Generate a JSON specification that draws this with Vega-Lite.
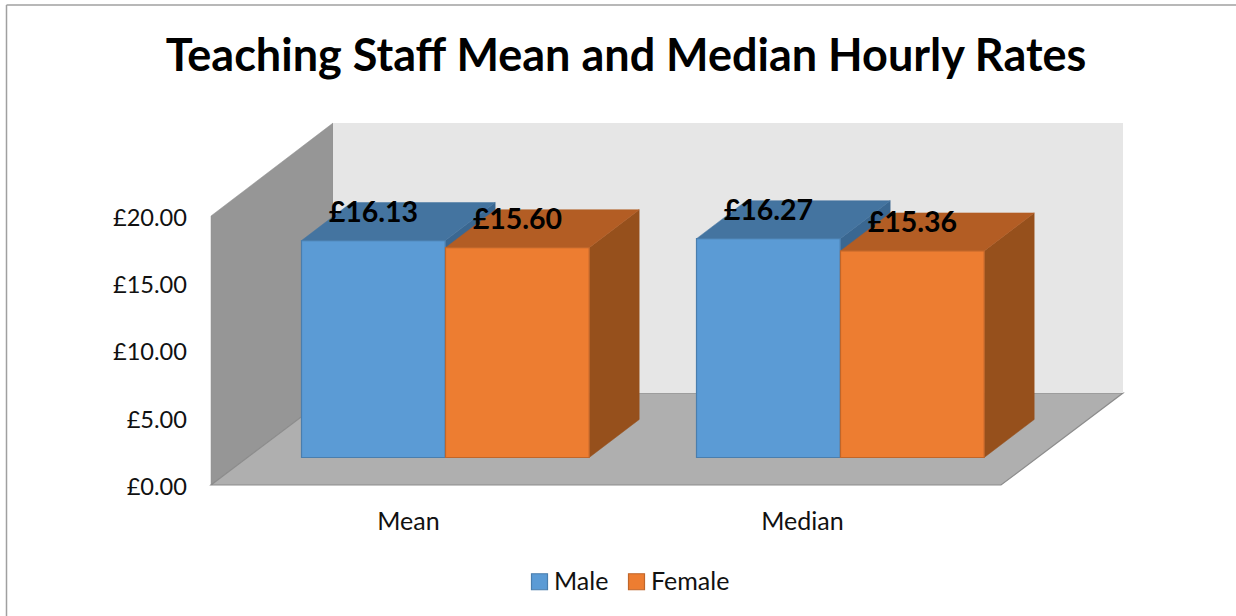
{"$schema":"https://vega.github.io/schema/vega-lite/v6.json","width":912,"height":362,"autosize":{"type":"none"},"padding":{"left":211,"top":123,"right":113,"bottom":131},"background":"white","config":{"view":{"stroke":null},"font":"Lato"},"title":{"text":"Teaching Staff Mean and Median Hourly Rates","font":"Lato","fontSize":45,"fontWeight":"bold","color":"#000000","anchor":"middle","frame":"group","dx":-41,"offset":-76},"resolve":{"axis":{"x":"independent","y":"independent"}},"datasets":{"pay":[{"group":"Mean","series":"Male","value":16.13},{"group":"Mean","series":"Female","value":15.6},{"group":"Median","series":"Male","value":16.27},{"group":"Median","series":"Female","value":15.36}],"depth":[{"d":0},{"d":1}]},"layer":[{"data":{"name":"depth"},"transform":[{"calculate":"datum.d*122","as":"xw"},{"calculate":"datum.d*6.84","as":"yb"},{"calculate":"20+datum.d*6.91","as":"yt"}],"mark":{"type":"area","fill":"#969696","stroke":"#8f8f8f","strokeWidth":0.5},"encoding":{"x":{"field":"xw","type":"quantitative","scale":{"domain":[0,912],"nice":false,"zero":false},"axis":{"values":[197,591],"title":null,"domain":false,"ticks":false,"grid":false,"labelFontSize":25,"labelColor":"#111111","labelPadding":24,"labelFont":"Lato","labelExpr":"datum.value<400?'Mean':'Median'"}},"y":{"field":"yb","type":"quantitative","scale":{"domain":[0,26.914],"nice":false,"zero":false},"axis":{"values":[0,5,10,15,20],"title":null,"domain":false,"ticks":false,"grid":false,"labelFontSize":23.6,"labelColor":"#111111","labelPadding":24.5,"labelOffset":2.5,"labelFont":"Lato","labelExpr":"'£'+format(datum.value,'.2f')"}},"y2":{"field":"yt"}}},{"data":{"name":"depth"},"transform":[{"calculate":"datum.d*6.84","as":"yf"},{"calculate":"datum.d*122","as":"xl"},{"calculate":"790+datum.d*122","as":"xr"}],"mark":{"type":"area","orient":"horizontal","fill":"#AFAFAF","stroke":"#8c8c8c","strokeWidth":1.2},"encoding":{"y":{"field":"yf","type":"quantitative","scale":{"domain":[0,26.914],"nice":false,"zero":false},"axis":null},"x":{"field":"xl","type":"quantitative","scale":{"domain":[0,912],"nice":false,"zero":false},"axis":null},"x2":{"field":"xr"}}},{"data":{"values":[{"wall":"back"}]},"mark":{"type":"rect","fill":"#E6E6E6"},"encoding":{"x":{"datum":122,"type":"quantitative","scale":{"domain":[0,912],"nice":false,"zero":false},"axis":null},"x2":{"datum":912},"y":{"datum":6.84,"type":"quantitative","scale":{"domain":[0,26.914],"nice":false,"zero":false},"axis":null},"y2":{"datum":26.914}}},{"data":{"name":"pay"},"transform":[{"calculate":"(datum.group=='Mean'?90.5:485.5)+(datum.series=='Male'?0:144)","as":"x0"},{"calculate":"datum.x0+143.7","as":"x1"},{"calculate":"2.045","as":"base"},{"calculate":"datum.base+datum.value","as":"top"},{"calculate":"0","as":"f0"},{"calculate":"1","as":"f1"},{"fold":["f0","f1"],"as":["k","d"]},{"calculate":"datum.x0+datum.d*50","as":"xa"},{"calculate":"datum.x1+datum.d*50","as":"xb"},{"calculate":"datum.base+datum.d*2.825","as":"yb"},{"calculate":"datum.top+datum.d*2.825","as":"yt"},{"calculate":"datum.group+datum.series","as":"bar"},{"calculate":"'£'+format(datum.value,'.2f')","as":"label"}],"layer":[{"mark":{"type":"area","strokeWidth":0.5},"encoding":{"detail":{"field":"bar"},"x":{"field":"xb","type":"quantitative","scale":{"domain":[0,912],"nice":false,"zero":false},"axis":null},"y":{"field":"yb","type":"quantitative","scale":{"domain":[0,26.914],"nice":false,"zero":false},"axis":null},"y2":{"field":"yt"},"fill":{"condition":{"test":"datum.series=='Male'","value":"#3A6791"},"value":"#96501C"},"stroke":{"condition":{"test":"datum.series=='Male'","value":"#3A6791"},"value":"#96501C"}}},{"mark":{"type":"area","orient":"horizontal","strokeWidth":0.5},"encoding":{"detail":{"field":"bar"},"y":{"field":"yt","type":"quantitative","scale":{"domain":[0,26.914],"nice":false,"zero":false},"axis":null},"x":{"field":"xa","type":"quantitative","scale":{"domain":[0,912],"nice":false,"zero":false},"axis":null},"x2":{"field":"xb"},"fill":{"condition":{"test":"datum.series=='Male'","value":"#4474A0"},"value":"#B35D24"},"stroke":{"condition":{"test":"datum.series=='Male'","value":"#4474A0"},"value":"#B35D24"}}},{"transform":[{"filter":"datum.d==0"}],"mark":{"type":"rect","strokeWidth":1.2},"encoding":{"x":{"field":"x0","type":"quantitative","scale":{"domain":[0,912],"nice":false,"zero":false},"axis":null},"x2":{"field":"x1"},"y":{"field":"base","type":"quantitative","scale":{"domain":[0,26.914],"nice":false,"zero":false},"axis":null},"y2":{"field":"top"},"fill":{"field":"series","type":"nominal","scale":{"domain":["Male","Female"],"range":["#5B9BD5","#ED7D31"]},"legend":{"orient":"none","legendX":316,"legendY":446,"direction":"horizontal","columns":2,"title":null,"symbolType":"square","symbolSize":256,"symbolStrokeWidth":1.2,"labelFontSize":25,"labelColor":"#111111","labelFont":"Lato","labelOffset":2,"columnPadding":15}},"stroke":{"field":"series","type":"nominal","scale":{"domain":["Male","Female"],"range":["#4A7EAD","#C0662A"]}}}},{"transform":[{"filter":"datum.d==0"},{"calculate":"(datum.x0+datum.x1)/2","as":"xc"}],"mark":{"type":"text","font":"Lato","fontWeight":"bold","fontSize":28.5,"color":"#000000","dy":-28,"baseline":"middle"},"encoding":{"x":{"field":"xc","type":"quantitative","scale":{"domain":[0,912],"nice":false,"zero":false},"axis":null},"y":{"field":"top","type":"quantitative","scale":{"domain":[0,26.914],"nice":false,"zero":false},"axis":null},"text":{"field":"label","type":"nominal"}}}]},{"data":{"values":[{"edge":"top"}]},"mark":{"type":"rule","color":"#A0A0A0","strokeWidth":1.5},"encoding":{"x":{"datum":-204.5,"type":"quantitative","scale":{"domain":[0,912],"nice":false,"zero":false},"axis":null},"x2":{"datum":1025},"y":{"datum":35.68,"type":"quantitative","scale":{"domain":[0,26.914],"nice":false,"zero":false},"axis":null}}},{"data":{"values":[{"edge":"left"}]},"mark":{"type":"rule","color":"#A0A0A0","strokeWidth":1.5},"encoding":{"x":{"datum":-204.5,"type":"quantitative","scale":{"domain":[0,912],"nice":false,"zero":false},"axis":null},"y":{"datum":35.68,"type":"quantitative","scale":{"domain":[0,26.914],"nice":false,"zero":false},"axis":null},"y2":{"datum":-9.74}}}]}
